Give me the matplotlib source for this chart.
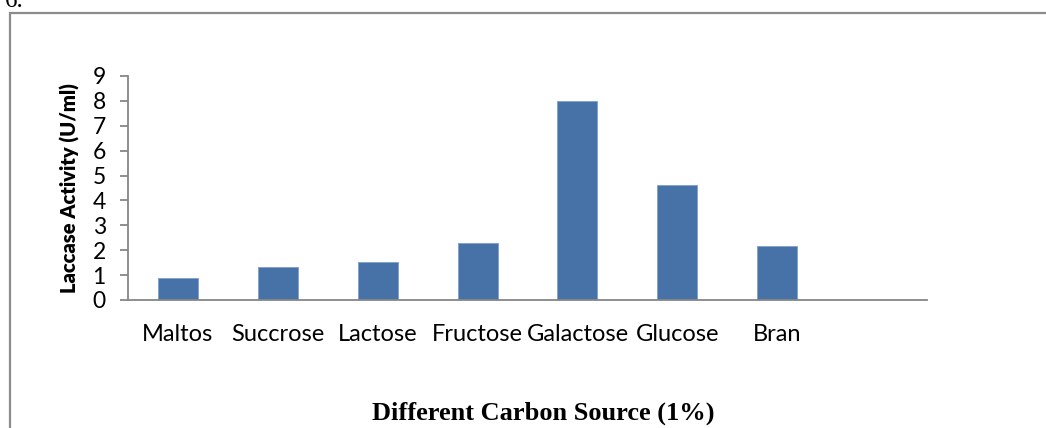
import matplotlib.pyplot as plt
from matplotlib.patches import Rectangle

# carbon sources and laccase activity
sources = ['Maltos', 'Succrose', 'Lactose', 'Fructose', 'Galactose', 'Glucose', 'Bran', '']
activity = [0.88, 1.33, 1.53, 2.29, 7.99, 4.62, 2.16, 0]
yticks = list(range(0, 10))

fig = plt.figure(figsize=(10.46, 4.28), dpi=100, facecolor='w')

# outer frame of the chart object, cut off at right and bottom
fig.patches.append(Rectangle((10 / 1046, -0.1), 1.2, 0.1 + 1 - 13 / 428,
                             transform=fig.transFigure, fill=False,
                             edgecolor='#8c8c8c', linewidth=1.6))
fig.text(5 / 1046, 1 - 7 / 428, '6.', family='Liberation Serif', fontsize=18,
         ha='left', va='baseline')

ax = fig.add_axes([128 / 1046, 1 - 300 / 428, 799 / 1046, 224 / 428])
x = list(range(len(sources)))
ax.bar(x[:7], activity[:7], width=0.4, color='#4672a8', edgecolor='#7e9fcb', linewidth=0.6)
ax.set_xlim(-0.5, 7.5)
ax.set_ylim(0, 9)
ax.set_yticks(yticks)
ax.set_xticks(x)
ax.set_xticklabels(sources, family='Lato', fontsize=17)
ax.set_yticklabels([str(v) for v in yticks], family='Lato', fontsize=16.5)

for side in ['top', 'right']:
    ax.spines[side].set_visible(False)
for side in ['left', 'bottom']:
    ax.spines[side].set_color('#868686')
    ax.spines[side].set_linewidth(1.3)
ax.tick_params(axis='y', direction='out', length=6, width=1.3, color='#868686', pad=10)
ax.tick_params(axis='x', length=0, pad=17)

ax.set_ylabel('Laccase Activity (U/ml)', family='Lato', fontweight='heavy',
              fontsize=14.5, labelpad=9)
fig.text(543 / 1046, 1 - 413 / 428, 'Different Carbon Source (1%)',
         family='Liberation Serif', fontweight='bold', fontsize=19,
         ha='center', va='center')

fig.savefig('out.png', dpi=100, facecolor='w')
